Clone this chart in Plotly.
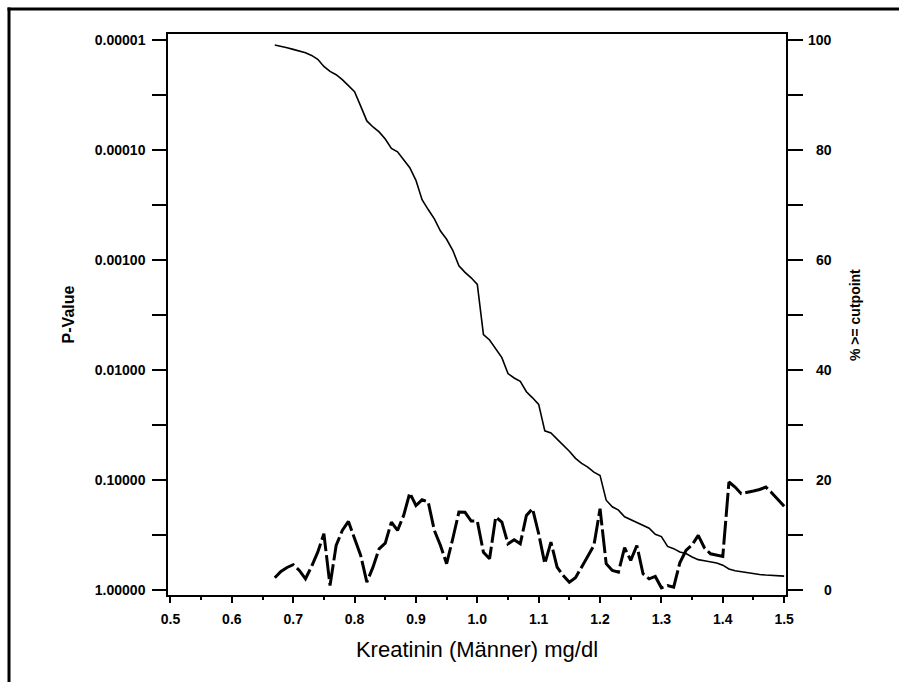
import math
import plotly.graph_objects as go

# ---------------- data ----------------
cutpoints = [0.67, 0.68, 0.69, 0.70, 0.71, 0.72, 0.73, 0.74, 0.75, 0.76,
             0.77, 0.78, 0.79, 0.80, 0.81, 0.82, 0.83, 0.84, 0.85, 0.86,
             0.87, 0.88, 0.89, 0.90, 0.91, 0.92, 0.93, 0.94, 0.95, 0.96,
             0.97, 0.98, 0.99, 1.00, 1.01, 1.02, 1.03, 1.04, 1.05, 1.06,
             1.07, 1.08, 1.09, 1.10, 1.11, 1.12, 1.13, 1.14, 1.15, 1.16,
             1.17, 1.18, 1.19, 1.20, 1.21, 1.22, 1.23, 1.24, 1.25, 1.26,
             1.27, 1.28, 1.29, 1.30, 1.31, 1.32, 1.33, 1.34, 1.35, 1.36,
             1.37, 1.38, 1.39, 1.40, 1.41, 1.42, 1.43, 1.44, 1.45, 1.46,
             1.47, 1.48, 1.49, 1.50]

p_values = [0.767, 0.671, 0.618, 0.583, 0.658, 0.783, 0.605, 0.449, 0.305, 0.901,
            0.390, 0.285, 0.236, 0.339, 0.481, 0.840, 0.614, 0.418, 0.372, 0.239,
            0.285, 0.208, 0.130, 0.169, 0.150, 0.157, 0.285, 0.390, 0.571, 0.339,
            0.194, 0.195, 0.234, 0.234, 0.449, 0.515, 0.215, 0.239, 0.377, 0.346,
            0.377, 0.208, 0.181, 0.305, 0.571, 0.364, 0.614, 0.731, 0.840, 0.767,
            0.614, 0.491, 0.390, 0.181, 0.571, 0.658, 0.681, 0.409, 0.533, 0.390,
            0.705, 0.783, 0.746, 0.946, 0.901, 0.933, 0.560, 0.433, 0.385, 0.316,
            0.409, 0.464, 0.481, 0.491, 0.1035, 0.115, 0.132, 0.129, 0.125, 0.121,
            0.115, 0.130, 0.149, 0.172]

pct_above = [99.1, 98.9, 98.6, 98.3, 98.0, 97.7, 97.2, 96.5, 95.2, 94.3,
             93.7, 92.8, 91.7, 90.6, 88.0, 85.3, 84.2, 83.3, 82.0, 80.3,
             79.7, 78.3, 76.8, 74.5, 71.0, 69.2, 67.5, 65.3, 63.8, 61.8,
             59.0, 57.8, 56.8, 55.6, 46.5, 45.5, 44.0, 42.3, 39.4, 38.6,
             38.0, 36.1, 35.0, 33.8, 29.0, 28.6, 27.5, 26.4, 25.3, 24.0,
             23.1, 22.4, 21.5, 20.9, 16.4, 15.2, 14.6, 13.4, 12.9, 12.3,
             11.8, 11.3, 10.2, 9.8, 8.0, 7.6, 7.0, 6.7, 6.1, 5.6,
             5.4, 5.2, 5.0, 4.6, 3.9, 3.6, 3.4, 3.3, 3.1, 2.9,
             2.8, 2.7, 2.65, 2.6]

p_dotted_refs = [0.001, 0.01, 0.1]
p_dashed_refs = [0.00121, 0.0281]

x_tick_vals = [0.5, 0.6, 0.7, 0.8, 0.9, 1.0, 1.1, 1.2, 1.3, 1.4, 1.5]
x_minor_vals = [0.55, 0.65, 0.75, 0.85, 0.95, 1.05, 1.15, 1.25, 1.35, 1.45]
p_tick_vals = [0.00001, 0.0001, 0.001, 0.01, 0.1, 1.0]
p_tick_text = ["0.00001", "0.00010", "0.00100", "0.01000", "0.10000", "1.00000"]
p_minor_exps = [-4.5, -3.5, -2.5, -1.5, -0.5]
pct_tick_vals = [0, 20, 40, 60, 80, 100]
pct_minor_vals = [10, 30, 50, 70, 90]

# ---------------- figure ----------------
W, H = 899, 682
ML, MR, MT, MB = 168, 113, 34, 87
PW, PH = W - ML - MR, H - MT - MB

def px_x(px):
    return (px - ML) / PW

def px_y(py):
    return (H - MB - py) / PH

FONT = "Liberation Sans, Arial, sans-serif"
tickfont = dict(family=FONT, size=14, color="black", weight="bold")

fig = go.Figure()

fig.add_trace(go.Scatter(
    x=cutpoints, y=p_values, yaxis="y", mode="lines", name="P-Value",
    line=dict(color="black", width=3, dash="24px,4px"),
))
fig.add_trace(go.Scatter(
    x=cutpoints, y=pct_above, yaxis="y2", mode="lines", name="% >= cutpoint",
    line=dict(color="black", width=1.6),
))

shapes = []
for v in p_dotted_refs:
    shapes.append(dict(type="line", xref="x domain", x0=0, x1=1, yref="y",
                       y0=math.log10(v), y1=math.log10(v),
                       line=dict(color="#444", width=1, dash="1px,2px"), layer="below"))
for v in p_dashed_refs:
    shapes.append(dict(type="line", xref="x domain", x0=0, x1=1, yref="y",
                       y0=math.log10(v), y1=math.log10(v),
                       line=dict(color="#222", width=1.3, dash="8px,4px"), layer="below"))
# outer frame (left and top edges only are visible in the picture)
shapes.append(dict(type="line", xref="paper", yref="paper",
                   x0=px_x(9), x1=px_x(9), y0=px_y(682), y1=px_y(7.5),
                   line=dict(color="black", width=3)))
shapes.append(dict(type="line", xref="paper", yref="paper",
                   x0=px_x(7.5), x1=px_x(899), y0=px_y(9), y1=px_y(9),
                   line=dict(color="black", width=3)))

annotations = []
for v in pct_tick_vals:
    annotations.append(dict(text=str(v), xref="paper", x=px_x(834), xanchor="right",
                            yref="y2", y=v, yanchor="middle", showarrow=False,
                            font=tickfont))
annotations.append(dict(text="% >= cutpoint", xref="paper", x=px_x(855), xanchor="center",
                        yref="paper", y=px_y(315), yanchor="middle", showarrow=False,
                        textangle=-90, font=dict(family=FONT, size=14, color="black", weight="bold")))

fig.update_layout(
    width=W, height=H,
    margin=dict(l=ML, r=MR, t=MT, b=MB, pad=0),
    paper_bgcolor="white", plot_bgcolor="white",
    showlegend=False,
    shapes=shapes, annotations=annotations,
    xaxis=dict(
        range=[0.496, 1.503], tickmode="array", tickvals=x_tick_vals, tickformat=".1f",
        ticks="outside", ticklen=6, tickwidth=2, tickcolor="black",
        ticklabelstandoff=4,
        minor=dict(tickmode="array", tickvals=x_minor_vals, ticks="outside",
                   ticklen=3, tickwidth=2, tickcolor="black", showgrid=False),
        showline=True, linecolor="black", linewidth=1.5, mirror=True,
        showgrid=False, zeroline=False, tickfont=tickfont,
        title=dict(text="Kreatinin (Männer) mg/dl", standoff=16,
                   font=dict(family=FONT, size=22, color="black")),
    ),
    yaxis=dict(
        type="log", range=[0.041, -5.0545], tickmode="array",
        tickvals=p_tick_vals, ticktext=p_tick_text,
        ticks="outside", ticklen=14, tickwidth=2, tickcolor="black",
        ticklabelstandoff=4,
        minor=dict(tickmode="array", tickvals=[10 ** e for e in p_minor_exps],
                   ticks="outside", ticklen=14, tickwidth=2, tickcolor="black",
                   showgrid=False),
        showline=True, linecolor="black", linewidth=1.5, mirror=True,
        showgrid=False, zeroline=False, tickfont=tickfont,
        title=dict(text="P-Value", standoff=16,
                   font=dict(family=FONT, size=16, color="black", weight="bold")),
    ),
    yaxis2=dict(
        overlaying="y", side="right", range=[-0.82, 101.09],
        tickmode="array", tickvals=pct_tick_vals, showticklabels=False,
        ticks="outside", ticklen=15, tickwidth=2, tickcolor="black",
        minor=dict(tickmode="array", tickvals=pct_minor_vals, ticks="outside",
                   ticklen=15, tickwidth=2, tickcolor="black", showgrid=False),
        showline=True, linecolor="black", linewidth=1.5,
        showgrid=False, zeroline=False,
    ),
)

fig.write_html("out.html")
